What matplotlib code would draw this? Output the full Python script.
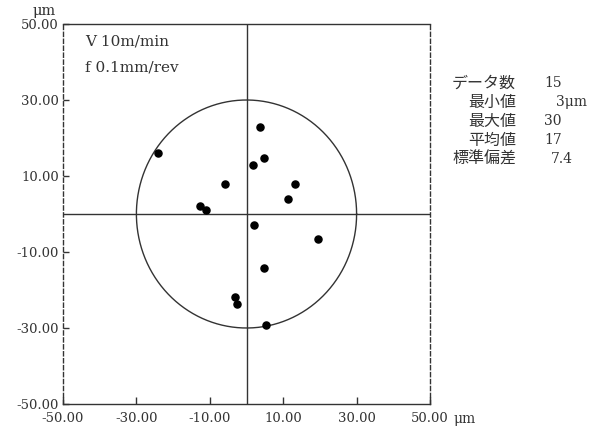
import matplotlib
matplotlib.use("Agg")
import matplotlib.pyplot as plt
import numpy as np

# Deviation measurements (x, y) in micrometres
x_vals = [3.6, 4.7, 1.7, -5.9, 13.2, 11.4, 2.1, 19.4, 4.7, -3.1, -2.7, 5.2, -24.2, -12.7, -11.1]
y_vals = [22.8, 14.8, 12.9, 8.0, 7.9, 4.0, -3.0, -6.7, -14.3, -21.9, -23.6, -29.3, 16.1, 2.0, 1.1]

tick_vals = [-50, -30, -10, 10, 30, 50]
tick_labels = ["-50.00", "-30.00", "-10.00", "10.00", "30.00", "50.00"]
circle_radius = 30

stat_names = ["データ数", "最小値", "最大値", "平均値", "標準偏差"]
stat_values = ["15", "3μm", "30", "17", "7.4"]
stat_offsets = [0, 12, 0, 0, 7]

cond_lines = ["V 10m/min", "f 0.1mm/rev"]

num_font = "DejaVu Serif"
jp_font = ["Noto Sans CJK JP", "DejaVu Sans"]

fig = plt.figure(figsize=(5.91, 4.34), dpi=100)
ax = fig.add_axes([63 / 591, 1 - 404 / 434, (430 - 63) / 591, (404 - 24) / 434])
ax.set_xlim(-50, 50)
ax.set_ylim(-50, 50)

# Spines: solid top/bottom, dashed sides
for side in ["top", "bottom"]:
    ax.spines[side].set_linewidth(1.0)
    ax.spines[side].set_color("#333333")
for side in ["left", "right"]:
    ax.spines[side].set_linestyle((0, (3, 2)))
    ax.spines[side].set_linewidth(1.0)
    ax.spines[side].set_color("#333333")

# Crosshair through the origin
ax.axhline(0, color="#333333", lw=1.0)
ax.axvline(0, color="#333333", lw=1.0)

# Tolerance circle
theta = np.linspace(0, 2 * np.pi, 400)
ax.plot(circle_radius * np.cos(theta), circle_radius * np.sin(theta), color="#333333", lw=1.0)

# Measured points
ax.scatter(x_vals, y_vals, s=26, color="black", zorder=3)

ax.set_xticks(tick_vals)
ax.set_xticklabels(tick_labels, fontfamily=num_font, fontsize=9.5, color="#333333")
ax.set_yticks(tick_vals)
ax.set_yticklabels(tick_labels, fontfamily=num_font, fontsize=9.5, color="#333333")
ax.tick_params(axis="x", direction="in", length=5, width=1, color="#333333", pad=6)
ax.tick_params(axis="y", direction="in", length=4, width=1, color="#333333", pad=3)

# Unit labels
fig.text(453 / 591, 1 - 419 / 434, "μm", fontfamily=num_font, fontsize=10, color="#333333",
         ha="left", va="center")
fig.text(44 / 591, 1 - 11 / 434, "μm", fontfamily=num_font, fontsize=10.5, color="#333333",
         ha="center", va="center")

# Cutting conditions
for i, line in enumerate(cond_lines):
    ax.text(-44, 45.5 - i * 7, line, fontfamily=num_font, fontsize=11, color="#333333",
            ha="left", va="center")

# Statistics block
for i, (name, val, off) in enumerate(zip(stat_names, stat_values, stat_offsets)):
    yy = 1 - (83 + i * 19) / 434
    fig.text(516 / 591, yy, name, fontfamily=jp_font, fontsize=11.5, color="#333333",
             ha="right", va="center")
    fig.text((544 + off) / 591, yy, val, fontfamily=num_font, fontsize=10, color="#333333",
             ha="left", va="center")

fig.savefig("out.png", dpi=100)
